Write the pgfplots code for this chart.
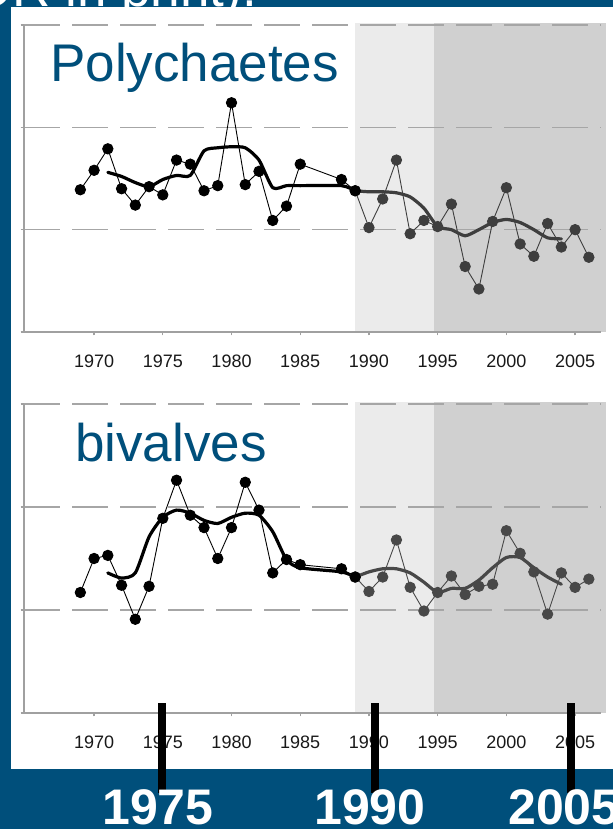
\documentclass[border=0pt]{standalone}
\usepackage{fontspec}
\setmainfont{Liberation Sans}
\usepackage{pgfplots}
\pgfplotsset{compat=1.18}
\definecolor{slideblue}{RGB}{0,79,123}
\definecolor{gridgrey}{RGB}{166,166,166}
\definecolor{axisgrey}{RGB}{160,160,160}
\definecolor{shadeA}{RGB}{235,235,235}
\definecolor{shadeB}{RGB}{208,208,208}
\definecolor{lateA}{RGB}{62,62,62}
\definecolor{lateB}{RGB}{72,72,72}
\pgfplotsset{
  geom/.style={
    scale only axis, width=577.2pt,
    xmin=1964.9, xmax=2006.9, ymin=0, ymax=3,
    clip=false, anchor=south west,
  },
  shadeaxis/.style={geom, hide axis},
  panel/.style={
    geom,
    axis lines*=left,
    axis line style={draw=axisgrey, line width=1.4pt, -},
    xtick={1970,1975,...,2005}, ytick={0,1,2,3}, yticklabels={},
    tick align=outside, major tick length=3.5pt,
    tick style={draw=axisgrey, line width=1.2pt},
    ymajorgrids,
    major grid style={draw=gridgrey, line width=1.6pt, dash pattern=on 36pt off 12pt},
    xticklabel style={font=\fontsize{18}{20}\selectfont, text=black!90, inner sep=0pt, yshift=-19pt},
    /pgf/number format/1000 sep={},
    /pgf/number format/assume math mode=true,
  },
  thin/.style={line width=0.9pt, mark=*, mark size=5.2pt, mark options={solid}},
  thick/.style={line width=3.2pt, smooth, tension=0.4, line join=round, line cap=round},
}
\begin{document}
\begin{tikzpicture}
\path[use as bounding box] (0pt,0pt) rectangle (613pt,829pt);
\fill[slideblue] (0pt,0pt) rectangle (613pt,829pt);
\node[white, anchor=base east, font=\fontsize{53}{60}\selectfont, inner sep=0pt] at (257pt,822pt) {OR in print).};
\fill[white] (11pt,60pt) rectangle (613pt,822pt);

% ---- shading ----
\begin{axis}[shadeaxis, height=307pt, at={(24pt,497pt)}]
\fill[shadeA] (axis cs:1988.99,0) rectangle (axis cs:1994.74,3.02);
\fill[shadeB] (axis cs:1994.74,0) rectangle (axis cs:2007.25,3.02);
\end{axis}
\begin{axis}[shadeaxis, height=309pt, at={(24pt,116pt)}]
\fill[shadeA] (axis cs:1988.99,0) rectangle (axis cs:1994.74,3.02);
\fill[shadeB] (axis cs:1994.74,0) rectangle (axis cs:2007.25,3.02);
\end{axis}

% ---- Polychaetes ----
\begin{axis}[panel, height=307pt, at={(24pt,497pt)}]
\addplot[lateA, thick] coordinates {(1989,1.38)(1990,1.37)(1991,1.37)(1992,1.36)(1993,1.32)(1994,1.21)(1995,1.03)(1996,1.00)(1997,0.94)(1998,1.00)(1999,1.07)(2000,1.10)(2001,1.07)(2002,1.00)(2003,0.92)(2004,0.91)};
\addplot[lateA, thin] coordinates {(1989,1.38)(1990,1.02)(1991,1.30)(1992,1.68)(1993,0.96)(1994,1.09)(1995,1.03)(1996,1.25)(1997,0.64)(1998,0.42)(1999,1.08)(2000,1.41)(2001,0.86)(2002,0.74)(2003,1.06)(2004,0.83)(2005,1.00)(2006,0.73)};
\addplot[black, thick] coordinates {(1971,1.56)(1972,1.52)(1973,1.46)(1974,1.42)(1975,1.49)(1976,1.53)(1977,1.53)(1978,1.77)(1979,1.80)(1980,1.81)(1981,1.80)(1982,1.68)(1983,1.41)(1984,1.43)(1985,1.43)(1988,1.43)(1989,1.38)};
\addplot[black, thin] coordinates {(1969,1.39)(1970,1.58)(1971,1.79)(1972,1.40)(1973,1.24)(1974,1.42)(1975,1.34)(1976,1.68)(1977,1.64)(1978,1.38)(1979,1.43)(1980,2.24)(1981,1.44)(1982,1.57)(1983,1.09)(1984,1.23)(1985,1.64)(1988,1.49)(1989,1.38)};
\end{axis}

% ---- bivalves ----
\begin{axis}[panel, height=309pt, at={(24pt,116pt)}]
\addplot[lateB, thick] coordinates {(1989,1.32)(1990,1.37)(1991,1.40)(1992,1.40)(1993,1.36)(1994,1.27)(1995,1.17)(1996,1.21)(1997,1.21)(1998,1.29)(1999,1.41)(2000,1.51)(2001,1.51)(2002,1.41)(2003,1.32)(2004,1.25)};
\addplot[lateB, thin] coordinates {(1989,1.32)(1990,1.18)(1991,1.32)(1992,1.68)(1993,1.22)(1994,0.99)(1995,1.17)(1996,1.33)(1997,1.15)(1998,1.23)(1999,1.25)(2000,1.77)(2001,1.55)(2002,1.37)(2003,0.96)(2004,1.36)(2005,1.22)(2006,1.30)};
\addplot[black, thick] coordinates {(1971,1.36)(1972,1.31)(1973,1.36)(1974,1.71)(1975,1.90)(1976,1.97)(1977,1.94)(1978,1.87)(1979,1.84)(1980,1.90)(1981,1.94)(1982,1.92)(1983,1.76)(1984,1.49)(1985,1.41)(1988,1.37)(1989,1.32)};
\addplot[black, thin] coordinates {(1969,1.17)(1970,1.50)(1971,1.53)(1972,1.24)(1973,0.91)(1974,1.23)(1975,1.89)(1976,2.26)(1977,1.92)(1978,1.80)(1979,1.50)(1980,1.80)(1981,2.24)(1982,1.97)(1983,1.36)(1984,1.49)(1985,1.44)(1988,1.40)(1989,1.32)};
\end{axis}

\node[anchor=base west, text=slideblue, font=\fontsize{53}{60}\selectfont, inner sep=0pt] at (50pt,747pt) {Polychaetes};
\node[anchor=base west, text=slideblue, font=\fontsize{53}{60}\selectfont, inner sep=0pt] at (75pt,367pt) {bivalves};

\fill[black] (158pt,36pt) rectangle (166pt,126pt);
\fill[black] (370.5pt,36pt) rectangle (378.5pt,126pt);
\fill[black] (567pt,36pt) rectangle (575pt,126pt);

\node[white, anchor=base, font=\bfseries\fontsize{50}{56}\selectfont, inner sep=0pt] at (158pt,5pt) {1975};
\node[white, anchor=base, font=\bfseries\fontsize{50}{56}\selectfont, inner sep=0pt] at (370pt,5pt) {1990};
\node[white, anchor=base, font=\bfseries\fontsize{50}{56}\selectfont, inner sep=0pt] at (564pt,5pt) {2005};
\end{tikzpicture}
\end{document}
